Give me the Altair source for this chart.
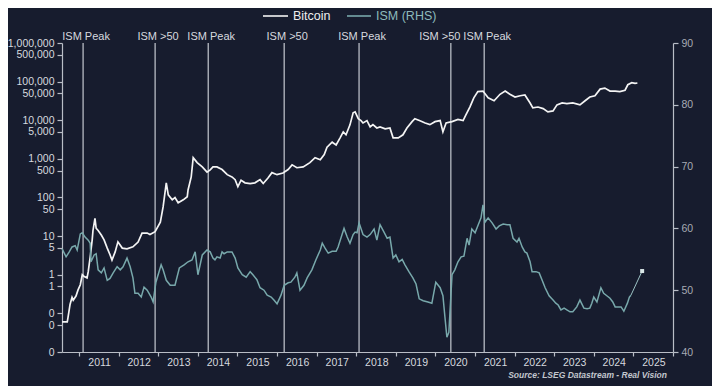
import altair as alt
import pandas as pd

# ---------------- data ----------------
btc_t = [2010.57, 2010.70, 2010.72, 2010.77, 2010.82, 2010.85, 2010.92, 2010.97, 2011.03, 2011.08,
         2011.13, 2011.20, 2011.23, 2011.28, 2011.33, 2011.35, 2011.40, 2011.43, 2011.48, 2011.56,
         2011.63, 2011.71, 2011.78, 2011.83, 2011.91, 2011.98, 2012.09, 2012.21, 2012.36, 2012.49,
         2012.59, 2012.72, 2012.79, 2012.92, 2013.05, 2013.12, 2013.20, 2013.25, 2013.35, 2013.42,
         2013.50, 2013.63, 2013.73, 2013.75, 2013.83, 2013.88, 2013.98, 2014.11, 2014.23, 2014.31,
         2014.38, 2014.48, 2014.61, 2014.74, 2014.86, 2014.94, 2015.01, 2015.09, 2015.19, 2015.32,
         2015.44, 2015.57, 2015.65, 2015.77, 2015.87, 2016.00, 2016.15, 2016.28, 2016.38, 2016.50,
         2016.66, 2016.83, 2016.96, 2017.09, 2017.19, 2017.26, 2017.39, 2017.49, 2017.59, 2017.67,
         2017.74, 2017.84, 2017.92, 2017.97, 2018.05, 2018.12, 2018.17, 2018.27, 2018.35, 2018.42,
         2018.52, 2018.60, 2018.73, 2018.85, 2018.93, 2019.06, 2019.18, 2019.28, 2019.41, 2019.48,
         2019.61, 2019.74, 2019.86, 2019.99, 2020.12, 2020.19, 2020.27, 2020.42, 2020.57, 2020.70,
         2020.77, 2020.87, 2020.97, 2021.07, 2021.20, 2021.33, 2021.48, 2021.63, 2021.76, 2021.88,
         2022.01, 2022.14, 2022.26, 2022.39, 2022.46, 2022.59, 2022.72, 2022.84, 2022.97, 2023.07,
         2023.20, 2023.32, 2023.47, 2023.65, 2023.78, 2023.90, 2024.03, 2024.16, 2024.28, 2024.41,
         2024.54, 2024.66, 2024.79, 2024.86, 2024.96, 2025.04, 2025.10]
btc_v = [0.06, 0.06, 0.08, 0.17, 0.26, 0.22, 0.28, 0.4, 0.55, 1.0,
         0.9, 0.83, 1.2, 2.9, 8, 14, 29, 16, 14, 10.7,
         8, 4.9, 3.3, 2.4, 3.9, 7.1, 4.9, 4.7, 5.3, 7,
         12, 12, 11, 13, 23, 57, 240, 117, 87, 100,
         73, 87, 105, 157, 340, 1070, 800, 620, 455, 520,
         620, 620, 530, 390, 340, 290, 190, 280, 240, 230,
         240, 290, 230, 320, 440, 390, 430, 530, 700, 590,
         620, 800, 1070, 950, 1300, 2000, 2700, 2300, 3500, 5000,
         4200, 7600, 15600, 16500, 11000, 9800, 8500, 9800, 6700, 7700,
         6300, 6700, 6000, 6300, 3500, 3500, 4200, 6300, 9200, 11000,
         9700, 8500, 7700, 9200, 9800, 5000, 8500, 9200, 10500, 9800,
         13700, 22000, 38000, 55000, 57000, 38000, 32000, 47000, 57000, 47000,
         40000, 43000, 45000, 28000, 21000, 22000, 20000, 16500, 17500, 25000,
         28000, 27000, 28000, 25000, 32000, 40000, 43000, 64000, 68000, 57000,
         57000, 55000, 60000, 83000, 94000, 90000, 92000]

ism_t = [2010.57, 2010.67, 2010.75, 2010.82, 2010.90, 2010.95, 2011.03, 2011.08, 2011.15, 2011.23,
         2011.28, 2011.30, 2011.38, 2011.43, 2011.48, 2011.56, 2011.63, 2011.71, 2011.78, 2011.86,
         2011.96, 2012.04, 2012.11, 2012.21, 2012.29, 2012.36, 2012.41, 2012.49, 2012.57, 2012.64,
         2012.72, 2012.82, 2012.87, 2012.94, 2013.07, 2013.12, 2013.20, 2013.30, 2013.42, 2013.53,
         2013.65, 2013.75, 2013.85, 2013.93, 2014.00, 2014.11, 2014.23, 2014.31, 2014.38, 2014.43,
         2014.48, 2014.56, 2014.61, 2014.66, 2014.74, 2014.86, 2014.94, 2015.01, 2015.12, 2015.22,
         2015.32, 2015.39, 2015.49, 2015.57, 2015.67, 2015.75, 2015.85, 2015.92, 2016.00, 2016.10,
         2016.18, 2016.28, 2016.35, 2016.45, 2016.50, 2016.58, 2016.68, 2016.76, 2016.88, 2016.98,
         2017.09, 2017.14, 2017.21, 2017.29, 2017.39, 2017.49, 2017.54, 2017.64, 2017.69, 2017.77,
         2017.84, 2017.92, 2017.97, 2018.02, 2018.07, 2018.17, 2018.27, 2018.35, 2018.45, 2018.52,
         2018.60, 2018.70, 2018.78, 2018.85, 2018.93, 2019.00, 2019.08, 2019.16, 2019.23, 2019.33,
         2019.43, 2019.51, 2019.59, 2019.69, 2019.81, 2019.91, 2020.01, 2020.12, 2020.19, 2020.24,
         2020.29, 2020.34, 2020.42, 2020.49, 2020.57, 2020.65, 2020.72, 2020.80, 2020.85, 2020.92,
         2021.00, 2021.08, 2021.15, 2021.20, 2021.25, 2021.33, 2021.43, 2021.53, 2021.61, 2021.71,
         2021.81, 2021.88, 2021.96, 2022.06, 2022.11, 2022.19, 2022.26, 2022.31, 2022.39, 2022.44,
         2022.54, 2022.62, 2022.69, 2022.77, 2022.87, 2022.97, 2023.04, 2023.10, 2023.17, 2023.25,
         2023.32, 2023.40, 2023.47, 2023.57, 2023.65, 2023.75, 2023.83, 2023.90, 2023.95, 2024.00,
         2024.08, 2024.18, 2024.25, 2024.33, 2024.41, 2024.48, 2024.54, 2024.61, 2024.69, 2024.76,
         2024.85, 2024.90, 2024.94]
ism_v = [56.7, 55.4, 56.2, 57.0, 57.2, 56.5, 59.1, 59.3, 58.6, 58.1,
         57.6, 54.6, 55.7, 55.9, 53.3, 52.8, 53.6, 51.6, 51.9, 52.8,
         53.8, 53.3, 53.8, 55.2, 53.8, 52.0, 49.5, 49.5, 48.9, 50.5,
         50.0, 48.9, 48.1, 51.3, 54.1, 53.3, 51.6, 50.8, 50.8, 53.6,
         54.1, 54.6, 54.9, 56.2, 52.5, 55.7, 56.5, 56.2, 55.2, 54.9,
         55.4, 55.2, 56.2, 55.9, 56.2, 56.2, 55.2, 53.6, 52.5, 52.1,
         53.0, 52.5, 51.7, 50.4, 50.0, 49.2, 48.9, 48.4, 47.8, 49.2,
         50.8, 51.2, 51.3, 52.1, 52.8, 50.0, 50.8, 52.0, 53.3, 54.9,
         56.5, 57.6, 56.8, 56.0, 56.3, 56.3, 57.0, 59.0, 60.0, 58.6,
         57.6, 59.0, 59.4, 59.3, 60.9, 59.0, 58.6, 59.0, 59.9, 58.1,
         60.6, 59.4, 58.4, 58.6, 55.2, 55.7, 54.6, 55.0, 54.1, 53.0,
         52.0, 51.0, 48.6, 48.3, 48.1, 47.9, 51.3, 50.4, 49.1, 45.7,
         42.4, 43.2, 52.5, 53.3, 54.6, 55.4, 55.5, 58.4, 57.3, 59.9,
         59.3, 60.6, 61.7, 63.8, 61.0, 61.7, 60.9, 59.9, 60.4, 60.7,
         60.6, 60.6, 58.4, 57.8, 58.4, 57.0, 56.2, 56.0, 54.6, 53.0,
         53.0, 52.8, 51.7, 50.4, 49.1, 48.4, 47.9, 47.6, 46.8, 47.1,
         46.8, 46.5, 46.5, 47.3, 48.4, 47.1, 47.0, 47.1, 47.9, 48.9,
         48.1, 50.4, 49.5, 49.1, 48.7, 48.1, 47.3, 47.3, 47.3, 46.6,
         47.9, 48.9, 49.2]

proj_t = [2024.94, 2025.22]
proj_v = [49.2, 53.1]

event_t = [2011.10, 2012.92, 2014.26, 2016.18, 2018.07, 2020.39, 2021.23]
event_label = ["ISM Peak", "ISM >50", "ISM Peak", "ISM >50", "ISM Peak", "ISM >50", "ISM Peak"]

btc_ticks = [0.01, 0.05, 0.1, 0.5, 1, 5, 10, 50, 100, 500, 1000, 5000, 10000,
             50000, 100000, 500000, 1000000]
ism_ticks = [40, 50, 60, 70, 80, 90]
year_ticks = list(range(2011, 2027))


def to_date(t):
    y = int(t)
    return pd.Timestamp(year=y, month=1, day=1) + pd.Timedelta(days=(t - y) * 365.25)


btc_df = pd.DataFrame({"date": [to_date(t) for t in btc_t], "price": btc_v})
ism_df = pd.DataFrame({"date": [to_date(t) for t in ism_t], "ism": ism_v})
proj_df = pd.DataFrame({"date": [to_date(t) for t in proj_t], "ism": proj_v})
proj_end = proj_df.tail(1)
ev_df = pd.DataFrame({"date": [to_date(t) for t in event_t], "label": event_label})
dummy = pd.DataFrame({"a": [0]})

# ---------------- style ----------------
BG = "#171c2e"
FONT = "Liberation Sans"
AXIS_C = "#b9bdc6"
LABEL_C = "#d6d9df"
ISM_C = "#78a8ab"
W, H = 611, 309

x_scale = alt.Scale(domain=[alt.DateTime(year=2010, month=7, date=27),
                            alt.DateTime(year=2026, month=1, date=1)])
x_axis = alt.Axis(values=[alt.DateTime(year=y, month=1, date=1) for y in year_ticks],
                  labelExpr="year(datum.value) == 2026 ? '' : timeFormat(datum.value, '%Y')",
                  labelOffset=20, labelFlush=False, labelOverlap=False, tickSize=4,
                  labelPadding=1, labelFontSize=10.5, title=None, grid=False)

btc = alt.Chart(btc_df).mark_line(color="#f4f4f4", strokeWidth=1.7).encode(
    x=alt.X("date:T", scale=x_scale, axis=x_axis),
    y=alt.Y("price:Q", scale=alt.Scale(type="log", domain=[0.01, 1000000]),
            axis=alt.Axis(orient="left", values=btc_ticks, format=",.0f", labelOverlap=False,
                          tickSize=5, labelFontSize=10.5, labelPadding=3, title=None, grid=False)),
)

ism_axis = alt.Axis(orient="right", values=ism_ticks, tickSize=5, labelFontSize=10.5,
                    labelColor="#a7abb4", labelPadding=3, title=None, grid=False)
ism = alt.Chart(ism_df).mark_line(color=ISM_C, strokeWidth=1.5).encode(
    x="date:T",
    y=alt.Y("ism:Q", scale=alt.Scale(domain=[40, 90]), axis=ism_axis),
)
proj = alt.Chart(proj_df).mark_line(color="#9cc2c4", strokeWidth=1).encode(
    x="date:T",
    y=alt.Y("ism:Q", scale=alt.Scale(domain=[40, 90]), axis=None),
)
proj_pt = alt.Chart(proj_end).mark_point(shape="square", size=16, filled=True,
                                         color="#d9e6e7", opacity=1).encode(
    x="date:T",
    y=alt.Y("ism:Q", scale=alt.Scale(domain=[40, 90]), axis=None),
)

rules = alt.Chart(ev_df).mark_rule(color="#c5c9d1", strokeWidth=1.2).encode(x="date:T")

ev_main = ev_df.drop(index=5)
ev_shift = ev_df.loc[[5]]
ev_text = alt.Chart(ev_main).mark_text(font=FONT, fontSize=11, color=LABEL_C, align="center",
                                       baseline="middle", dx=3).encode(
    x="date:T", y=alt.value(-6), text="label:N")
ev_text2 = alt.Chart(ev_shift).mark_text(font=FONT, fontSize=11, color=LABEL_C, align="center",
                                         baseline="middle", dx=-11).encode(
    x="date:T", y=alt.value(-6), text="label:N")

LEG_Y = -27
leg_btc_line = alt.Chart(dummy).mark_rule(color="#f4f4f4", strokeWidth=1.6).encode(
    x=alt.value(201), x2=alt.value(226), y=alt.value(LEG_Y))
leg_btc_text = alt.Chart(dummy).mark_text(text="Bitcoin", font=FONT, fontSize=12.5, color="#eeeeee",
                                          align="left", baseline="middle").encode(
    x=alt.value(231), y=alt.value(LEG_Y))
leg_ism_line = alt.Chart(dummy).mark_rule(color=ISM_C, strokeWidth=1.6).encode(
    x=alt.value(285), x2=alt.value(309), y=alt.value(LEG_Y))
leg_ism_text = alt.Chart(dummy).mark_text(text="ISM (RHS)", font=FONT, fontSize=12.5, color="#8dbabc",
                                          align="left", baseline="middle").encode(
    x=alt.value(314), y=alt.value(LEG_Y))

source = alt.Chart(dummy).mark_text(text="Source: LSEG Datastream - Real Vision", font=FONT,
                                    fontSize=8.5, fontStyle="italic", fontWeight="bold",
                                    color="#c3c7cf", align="right", baseline="middle").encode(
    x=alt.value(605), y=alt.value(332))

chart = alt.layer(
    rules, btc, ism, proj, proj_pt, ev_text, ev_text2,
    leg_btc_line, leg_btc_text, leg_ism_line, leg_ism_text, source,
).resolve_scale(y="independent").properties(
    width=W, height=H, background=BG,
    padding={"left": 54, "top": 35, "right": 39, "bottom": 34},
    autosize=alt.AutoSizeParams(type="none"),
).configure_view(stroke=None).configure_axis(
    domainColor=AXIS_C, tickColor=AXIS_C, labelColor=LABEL_C, labelFont=FONT,
    domainWidth=1.2, tickWidth=1.2,
)

chart.save("out.html", embed_options={"renderer": "svg", "actions": False})
